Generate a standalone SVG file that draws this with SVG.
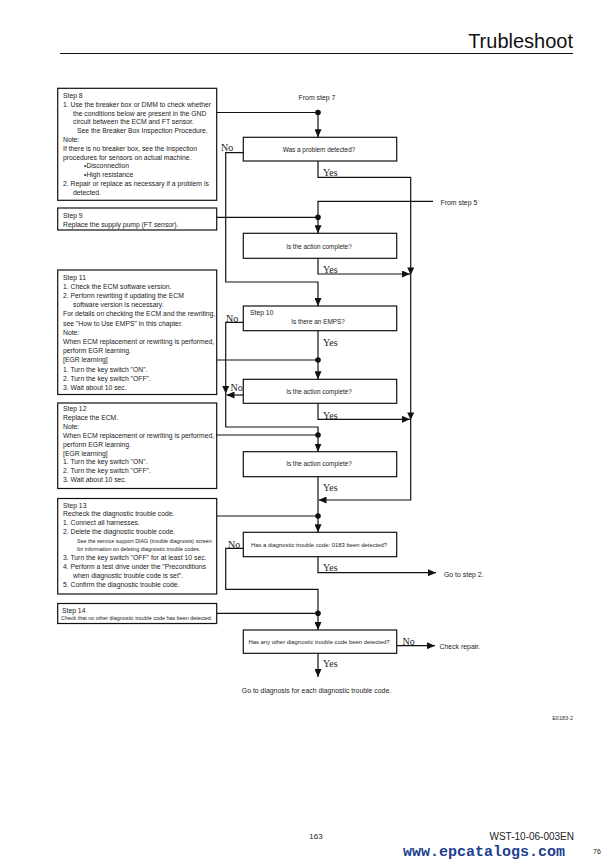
<svg xmlns="http://www.w3.org/2000/svg" width="615" height="867" viewBox="0 0 615 867">
<style>
.bx{fill:none;stroke:#111;stroke-width:1.2}
.ln{fill:none;stroke:#111;stroke-width:1.2}
.t{font-family:"Liberation Sans",Arial,sans-serif;font-size:6.8px;fill:#222}
.s{font-family:"Liberation Sans",Arial,sans-serif;font-size:5.4px;fill:#222}
.q{font-family:"Liberation Sans",Arial,sans-serif;font-size:6.4px;fill:#222;text-anchor:middle}
.q2{font-family:"Liberation Sans",Arial,sans-serif;font-size:5.9px;fill:#222;text-anchor:middle}
.yn{font-family:"Liberation Serif","Times New Roman",serif;font-size:10px;fill:#222}
.o{font-family:"Liberation Sans",Arial,sans-serif;font-size:6.9px;fill:#222}
</style>
<defs>
<marker id="ah" markerWidth="8" markerHeight="7" refX="8" refY="3.5" orient="auto" markerUnits="userSpaceOnUse"><path d="M0,0 L8,3.5 L0,7 z" fill="#111"/></marker>
</defs>
<rect width="615" height="867" fill="#fff"/>
<g id="header">
<text x="573" y="48" font-family="Liberation Sans,Arial,sans-serif" font-size="20" fill="#111" text-anchor="end">Trubleshoot</text>
<line x1="60" y1="53.5" x2="573" y2="53.5" stroke="#111" stroke-width="1"/>
</g>
<g id="step8">
<rect class="bx" x="57.7" y="88.3" width="159" height="112"/>
<text class="t" x="63" y="98">Step 8</text>
<text class="t" x="63" y="106.8">1.  Use the breaker box or DMM to check whether</text>
<text class="t" x="73" y="115.6">the conditions below are present in the GND</text>
<text class="t" x="73" y="124.4">circuit between the ECM and FT sensor.</text>
<text class="t" x="77" y="133.2">See the Breaker Box Inspection Procedure.</text>
<text class="t" x="63" y="142">Note:</text>
<text class="t" x="63" y="150.8">If there is no breaker box, see the Inspection</text>
<text class="t" x="63" y="159.6">procedures for sensors on actual machine.</text>
<text class="t" x="84" y="168.4">•Disconnection</text>
<text class="t" x="84" y="177.2">•High resistance</text>
<text class="t" x="63" y="186">2.  Repair or replace as necessary if a problem is</text>
<text class="t" x="73" y="194.8">detected.</text>
</g>
<g id="step9">
<rect class="bx" x="57.7" y="208" width="159" height="22"/>
<text class="t" x="63" y="218">Step 9</text>
<text class="t" x="63" y="226.5">Replace the supply pump (FT sensor).</text>
</g>
<g id="step11">
<rect class="bx" x="57.7" y="270" width="159" height="124.5"/>
<text class="t" x="63" y="279.5">Step 11</text>
<text class="t" x="63" y="288.7">1.  Check the ECM software version.</text>
<text class="t" x="63" y="297.9">2.  Perform rewriting if updating the ECM</text>
<text class="t" x="73" y="307.1">software version is necessary.</text>
<text class="t" x="63" y="316.3">For details on checking the ECM and the rewriting,</text>
<text class="t" x="63" y="325.5">see "How to Use EMPS" in this chapter.</text>
<text class="t" x="63" y="334.7">Note:</text>
<text class="t" x="63" y="343.9">When ECM replacement or rewriting is performed,</text>
<text class="t" x="63" y="353.1">perform EGR learning.</text>
<text class="t" x="63" y="362.3">[EGR learning]</text>
<text class="t" x="63" y="371.5">1.  Turn the key switch "ON".</text>
<text class="t" x="63" y="380.7">2.  Turn the key switch "OFF".</text>
<text class="t" x="63" y="389.9">3.  Wait about 10 sec.</text>
</g>
<g id="step12">
<rect class="bx" x="57.7" y="403" width="159" height="85.5"/>
<text class="t" x="63" y="411">Step 12</text>
<text class="t" x="63" y="419.9">Replace the ECM.</text>
<text class="t" x="63" y="428.8">Note:</text>
<text class="t" x="63" y="437.7">When ECM replacement or rewriting is performed,</text>
<text class="t" x="63" y="446.6">perform EGR learning.</text>
<text class="t" x="63" y="455.5">[EGR learning]</text>
<text class="t" x="63" y="464.4">1.  Turn the key switch "ON".</text>
<text class="t" x="63" y="473.3">2.  Turn the key switch "OFF".</text>
<text class="t" x="63" y="482.2">3.  Wait about 10 sec.</text>
</g>
<g id="step13">
<rect class="bx" x="57.7" y="498.5" width="159" height="95.5"/>
<text class="t" x="63" y="507.5">Step 13</text>
<text class="t" x="63" y="516.3">Recheck the diagnostic trouble code.</text>
<text class="t" x="63" y="525.1">1.  Connect all harnesses.</text>
<text class="t" x="63" y="533.9">2.  Delete the diagnostic trouble code.</text>
<text class="s" x="77" y="542.5">See the service support DIAG (trouble diagnosis) screen</text>
<text class="s" x="77" y="551.3">for information on deleting diagnostic trouble codes.</text>
<text class="t" x="63" y="560.3">3.  Turn the key switch "OFF" for at least 10 sec.</text>
<text class="t" x="63" y="569.1">4.  Perform a test drive under the "Preconditions</text>
<text class="t" x="73" y="577.9">when diagnostic trouble code is set".</text>
<text class="t" x="63" y="586.7">5.  Confirm the diagnostic trouble code.</text>
</g>
<g id="step14">
<rect class="bx" x="57.7" y="603.5" width="159" height="20"/>
<text class="t" x="62" y="612.5">Step 14</text>
<text class="s" x="61" y="620.3" font-size="5.6">Check that no other diagnostic trouble code has been detected.</text>
</g>
<g id="q1">
<rect class="bx" x="243.3" y="137.3" width="153.4" height="23.7"/>
<text class="q" x="319" y="151.5">Was a problem detected?</text>
</g>
<g id="q2">
<rect class="bx" x="243.3" y="233.3" width="153.4" height="25"/>
<text class="q" x="319" y="248.5">Is the action complete?</text>
</g>
<g id="q10">
<rect class="bx" x="243.3" y="306" width="153.4" height="24.7"/>
<text class="t" x="250" y="315">Step 10</text>
<text class="q" x="318" y="324">Is there an EMPS?</text>
</g>
<g id="q3">
<rect class="bx" x="243.3" y="379.3" width="153.4" height="24"/>
<text class="q" x="319" y="393.8">Is the action complete?</text>
</g>
<g id="q4">
<rect class="bx" x="243.3" y="451.7" width="153.4" height="25"/>
<text class="q" x="319" y="466.3">Is the action complete?</text>
</g>
<g id="q5">
<rect class="bx" x="243.3" y="532.3" width="153.4" height="24.4"/>
<text class="q2" x="319" y="547">Has a diagnostic trouble code: 0183 been detected?</text>
</g>
<g id="q6">
<rect class="bx" x="243.3" y="630" width="153.4" height="23.3"/>
<text class="q2" x="319" y="644.3">Has any other diagnostic trouble code been detected?</text>
</g>
<g id="terminals">
<text class="o" x="317" y="99.5" text-anchor="middle">From step 7</text>
<text class="o" x="440.5" y="205">From step 5</text>
<text class="o" x="444" y="576.7">Go to step 2.</text>
<text class="o" x="439.5" y="649">Check repair.</text>
<text class="o" x="316.5" y="692.5" text-anchor="middle">Go to diagnosis for each diagnostic trouble code.</text>
</g>
<g id="connectors">
<path class="ln" d="M216.7,112.5 H318"/>
<circle cx="318" cy="112.5" r="2.8" fill="#111"/>
<path class="ln" d="M318,112.5 V137.3" marker-end="url(#ah)"/>
<path class="ln" d="M243.3,152.7 H225.7 V282 H318 V306" marker-end="url(#ah)"/>
<path class="ln" d="M318,161 V177.3 H410.7 V500 H318.5" marker-end="url(#ah)"/>
<path d="M407.2,267.5 L414.2,267.5 L410.7,275 z" fill="#111"/>
<path d="M407.2,412.5 L414.2,412.5 L410.7,420 z" fill="#111"/>
<path class="ln" d="M433,201.3 H318 V217.3"/>
<path class="ln" d="M216.7,217.3 H318"/>
<circle cx="318" cy="217.3" r="2.8" fill="#111"/>
<path class="ln" d="M318,217.3 V233.3" marker-end="url(#ah)"/>
<path class="ln" d="M318,258.3 V274 H410" marker-end="url(#ah)"/>
<path class="ln" d="M243.3,322.3 H225.7 V427 H318 V451.7" marker-end="url(#ah)"/>
<path d="M222.2,386 L229.2,386 L225.7,393.5 z" fill="#111"/>
<path class="ln" d="M318,330.7 V379.3" marker-end="url(#ah)"/>
<path class="ln" d="M216.7,360 H318"/>
<circle cx="318" cy="360" r="2.8" fill="#111"/>
<path class="ln" d="M243.3,395 H226.5" marker-end="url(#ah)"/>
<path class="ln" d="M318,403.3 V419.3 H410" marker-end="url(#ah)"/>
<path class="ln" d="M216.7,435 H318"/>
<circle cx="318" cy="435" r="2.8" fill="#111"/>
<path class="ln" d="M318,476.7 V532.3" marker-end="url(#ah)"/>
<path class="ln" d="M216.7,516 H318"/>
<circle cx="318" cy="516" r="2.8" fill="#111"/>
<path class="ln" d="M243.3,548.3 H225.7 V589.3 H318 V630" marker-end="url(#ah)"/>
<path class="ln" d="M216.7,613.3 H318"/>
<circle cx="318" cy="613.3" r="2.8" fill="#111"/>
<path class="ln" d="M318,556.7 V572.7 H436" marker-end="url(#ah)"/>
<path class="ln" d="M396.7,645.7 H435" marker-end="url(#ah)"/>
<path class="ln" d="M318,653.3 V677" marker-end="url(#ah)"/>
<text class="yn" x="221" y="151">No</text>
<text class="yn" x="323" y="175.5">Yes</text>
<text class="yn" x="323" y="272.5">Yes</text>
<text class="yn" x="226" y="321.5">No</text>
<text class="yn" x="323" y="345.5">Yes</text>
<text class="yn" x="230.5" y="390.5">No</text>
<text class="yn" x="323" y="418.5">Yes</text>
<text class="yn" x="323" y="490.5">Yes</text>
<text class="yn" x="228" y="547.5">No</text>
<text class="yn" x="323" y="571">Yes</text>
<text class="yn" x="402.5" y="645">No</text>
<text class="yn" x="323" y="667">Yes</text>
</g>
<g id="footer">
<text x="573" y="720" font-family="Liberation Sans,Arial,sans-serif" font-size="5.5" fill="#333" text-anchor="end">E0183-2</text>
<text x="316" y="839" font-family="Liberation Sans,Arial,sans-serif" font-size="8" fill="#222" text-anchor="middle">163</text>
<text x="574" y="840" font-family="Liberation Sans,Arial,sans-serif" font-size="10" fill="#222" text-anchor="end">WST-10-06-003EN</text>
<text x="403" y="856" font-family="Liberation Mono,Courier New,monospace" font-size="15" font-weight="bold" fill="#1d3f8f">www.epcatalogs.com</text>
<text x="593" y="854" font-family="Liberation Sans,Arial,sans-serif" font-size="7" fill="#222">76</text>
</g>
</svg>
